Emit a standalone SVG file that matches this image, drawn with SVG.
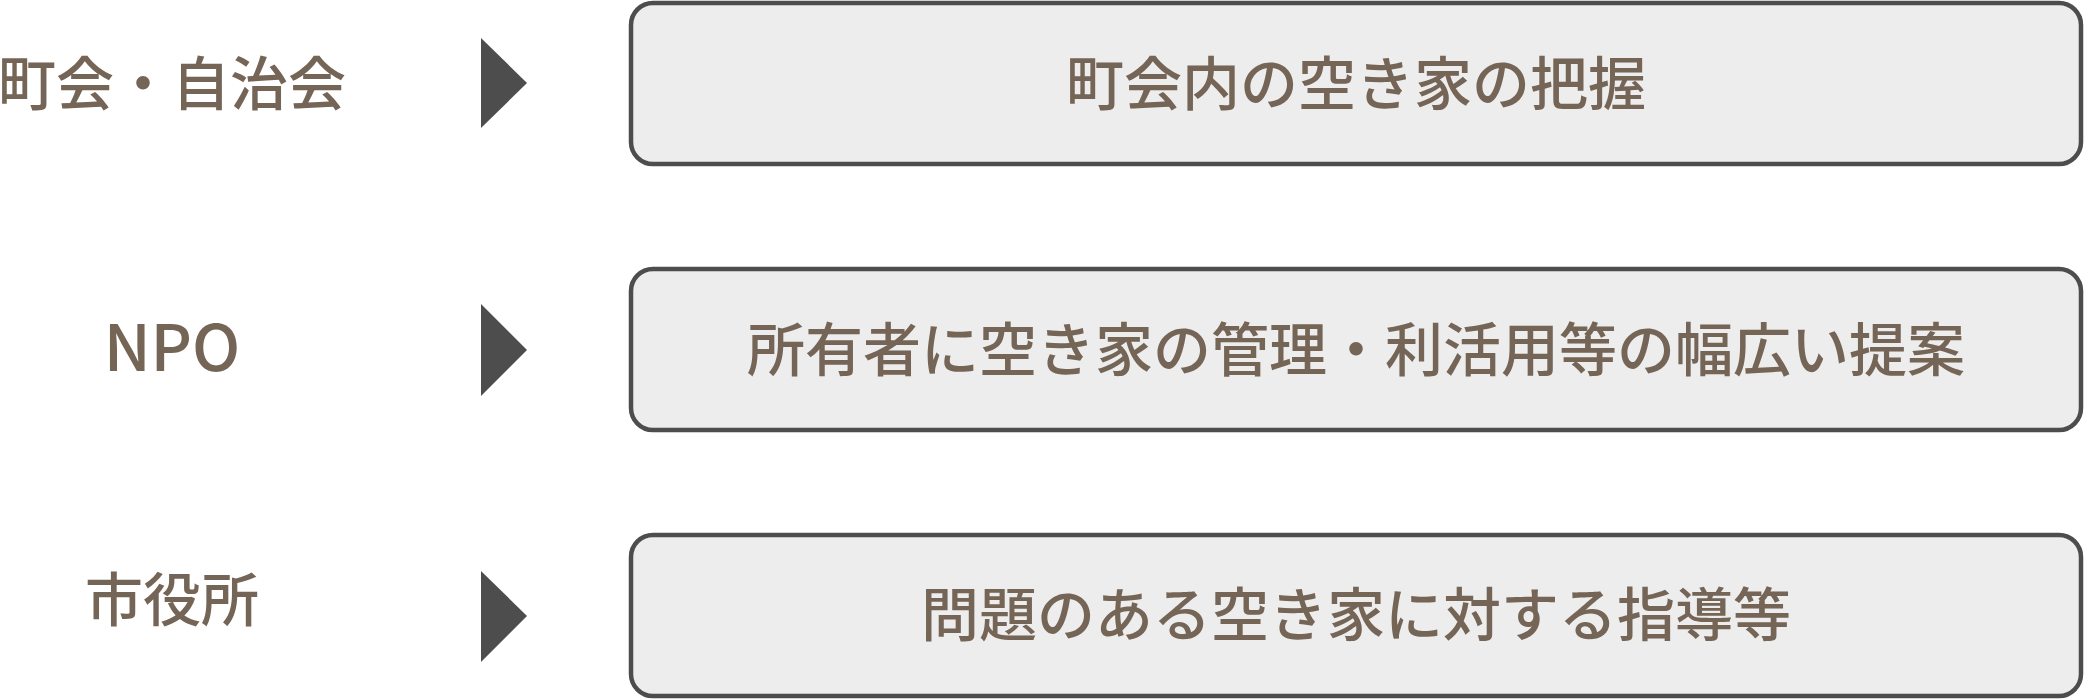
<svg xmlns="http://www.w3.org/2000/svg" width="2086" height="700" viewBox="0 0 2086 700">
<style>
.lbl{font-family:"Noto Sans CJK JP","Noto Sans",sans-serif;font-size:58px;font-weight:500;fill:#756557;text-anchor:middle}
.big{font-size:64px}
.box{fill:#ededed;stroke:#4d4d4d;stroke-width:4.5}
.tri{fill:#4d4d4d}
</style>
<rect width="2086" height="700" fill="#ffffff"/>
<g id="label-1"><text class="lbl" x="172" y="105">町会・自治会</text></g>
<g id="label-2"><text class="lbl big" x="172" y="371">NPO</text></g>
<g id="label-3"><text class="lbl" x="172" y="621">市役所</text></g>
<g id="connectors">
<polygon class="tri" points="481,38 527,83 481,128"/>
<polygon class="tri" points="481,304 527,350 481,396"/>
<polygon class="tri" points="481,571 527,616 481,662"/>
</g>
<g id="box-1"><rect class="box" x="631" y="3" width="1450" height="161" rx="22"/><text class="lbl" x="1356" y="105">町会内の空き家の把握</text></g>
<g id="box-2"><rect class="box" x="631" y="269" width="1450" height="161" rx="22"/><text class="lbl" x="1356" y="371">所有者に空き家の管理・利活用等の幅広い提案</text></g>
<g id="box-3"><rect class="box" x="631" y="535" width="1450" height="161" rx="22"/><text class="lbl" x="1356" y="636">問題のある空き家に対する指導等</text></g>
</svg>
